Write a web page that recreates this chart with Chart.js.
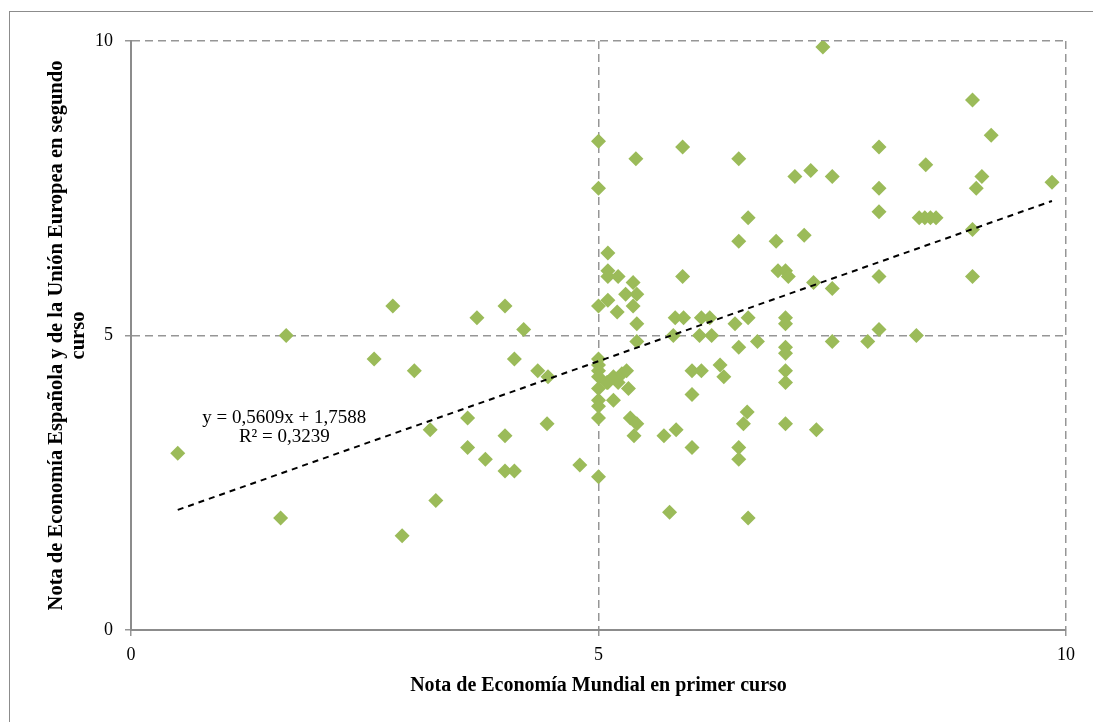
<!DOCTYPE html>
<html>
<head>
<meta charset="utf-8">
<script src="https://cdn.jsdelivr.net/npm/chart.js@4"></script>
<style>
  html, body { margin: 0; padding: 0; background: #fff; }
  #wrap { width: 1093px; height: 722px; position: relative; }
</style>
</head>
<body>
<div id="wrap"><canvas id="scatter"></canvas></div>
<script>
  // notas: primer curso (x) y segundo curso (y)
  const notaMundial = [
    0.5, 1.6, 1.66, 2.6, 2.8, 2.9, 3.03, 3.2, 3.26, 3.6, 3.6, 3.7, 3.79, 4.0, 4.0, 4.0, 4.1, 4.1, 4.2, 4.35,
    4.46, 4.45, 4.8, 5.0, 5.76, 6.6, 5.0, 5.0, 5.4, 5.9, 6.5, 7.1, 7.27, 7.5, 7.4, 9.0, 9.2, 8.0, 8.5, 8.0,
    9.1, 9.04, 9.85, 8.0, 8.43, 8.49, 8.55, 8.61, 9.0, 6.6, 6.5, 6.9, 7.2, 6.92, 7.0, 7.03, 7.3, 7.5, 8.0, 9.0,
    5.9, 5.1, 5.1, 5.1, 5.21, 5.37, 5.29, 5.41, 5.1, 5.0, 5.2, 5.37, 5.41, 5.82, 5.91, 6.1, 6.19, 6.46, 6.6, 7.0,
    7.0, 5.8, 6.08, 6.21, 5.41, 6.5, 6.7, 7.0, 7.0, 7.5, 8.0, 8.4, 7.88, 7.0, 7.0, 7.0, 7.33, 6.0, 6.1, 6.3,
    6.34, 6.0, 6.59, 6.55, 5.7, 5.83, 6.0, 6.5, 6.5, 5.0, 5.0, 5.0, 5.0, 5.0, 5.0, 5.0, 5.0, 5.09, 5.16, 5.16,
    5.25, 5.3, 5.21, 5.32, 5.1, 5.34, 5.41, 5.38
  ];
  const notaEspUE = [
    3.0, 1.9, 5.0, 4.6, 5.5, 1.6, 4.4, 3.4, 2.2, 3.6, 3.1, 5.3, 2.9, 3.3, 5.5, 2.7, 2.7, 4.6, 5.1, 4.4,
    4.3, 3.5, 2.8, 2.6, 2.0, 1.9, 8.3, 7.5, 8.0, 8.2, 8.0, 7.7, 7.8, 7.7, 9.9, 9.0, 8.4, 8.2, 7.9, 7.5,
    7.7, 7.5, 7.6, 7.1, 7.0, 7.0, 7.0, 7.0, 6.8, 7.0, 6.6, 6.6, 6.7, 6.1, 6.1, 6.0, 5.9, 5.8, 6.0, 6.0,
    6.0, 6.4, 6.1, 6.0, 6.0, 5.9, 5.7, 5.7, 5.6, 5.5, 5.4, 5.5, 5.2, 5.3, 5.3, 5.3, 5.3, 5.2, 5.3, 5.3,
    5.2, 5.0, 5.0, 5.0, 4.9, 4.8, 4.9, 4.8, 4.7, 4.9, 5.1, 5.0, 4.9, 4.4, 4.2, 3.5, 3.4, 4.4, 4.4, 4.5,
    4.3, 4.0, 3.7, 3.5, 3.3, 3.4, 3.1, 3.1, 2.9, 4.6, 4.5, 4.4, 4.3, 4.1, 3.9, 3.8, 3.6, 4.2, 4.3, 3.9,
    4.35, 4.4, 4.2, 4.1, 4.2, 3.6, 3.5, 3.3
  ];
  const axisTicks = [0, 5, 10];
  const trendSlope = 0.5609;
  const trendIntercept = 1.7588;
  const trendLabel = ['y = 0,5609x + 1,7588', 'R\u00b2 = 0,3239'];

  const puntos = notaMundial.map((x, i) => ({ x: x, y: notaEspUE[i] }));
  const xMin = Math.min(...notaMundial), xMax = Math.max(...notaMundial);
  const tendencia = [xMin, xMax].map(x => ({ x: x, y: trendSlope * x + trendIntercept }));

  const serif = "'Liberation Serif', 'DejaVu Serif', serif";

  // marco exterior y etiqueta de la recta
  const extras = {
    id: 'extras',
    beforeDraw(chart) {
      const ctx = chart.ctx;
      ctx.save();
      ctx.strokeStyle = '#8c8c8c';
      ctx.lineWidth = 1;
      ctx.strokeRect(9.5, 11.5, 2000, 2000);
      ctx.restore();
    },
    afterDraw(chart) {
      const ctx = chart.ctx;
      const xs = chart.scales.x, ys = chart.scales.y;
      const cx = xs.getPixelForValue(1.64);
      ctx.save();
      ctx.fillStyle = '#000';
      ctx.font = '19px ' + serif;
      ctx.textAlign = 'center';
      ctx.textBaseline = 'middle';
      ctx.fillText(trendLabel[0], cx, ys.getPixelForValue(3.6));
      ctx.fillText(trendLabel[1], cx, ys.getPixelForValue(3.27));
      ctx.restore();
    }
  };

  const canvas = document.querySelector('#scatter');
  const chart = new Chart(canvas, {
    type: 'scatter',
    data: {
      datasets: [{
        label: 'notas',
        data: puntos,
        pointStyle: 'rectRot',
        pointRadius: 7.5,
        pointHoverRadius: 7.5,
        backgroundColor: '#9bbb59',
        borderColor: '#9bbb59',
        borderWidth: 0,
        order: 2
      }, {
        label: 'tendencia',
        type: 'line',
        data: tendencia,
        borderColor: '#000',
        borderWidth: 2,
        borderDash: [6, 5],
        pointRadius: 0,
        fill: false,
        order: 1
      }]
    },
    options: {
      responsive: true,
      maintainAspectRatio: false,
      animation: false,
      layout: { padding: { top: 41, right: 27, left: 0, bottom: 0 } },
      plugins: { legend: { display: false }, tooltip: { enabled: false } },
      scales: {
        x: {
          type: 'linear',
          min: 0, max: 10,
          afterBuildTicks: s => { s.ticks = axisTicks.map(v => ({ value: v })); },
          afterFit: s => { s.height = 92; },
          grid: { color: '#969696', lineWidth: 1.5, tickLength: 6 },
          border: { color: '#8c8c8c', width: 2, dash: [8, 5] },
          ticks: { color: '#000', font: { family: serif, size: 18 }, padding: 8, maxRotation: 0 },
          title: {
            display: true,
            text: 'Nota de Economía Mundial en primer curso',
            color: '#000',
            font: { family: serif, size: 20, weight: 'bold' },
            padding: { top: 0, bottom: 24 }
          }
        },
        y: {
          type: 'linear',
          min: 0, max: 10,
          afterBuildTicks: s => { s.ticks = axisTicks.map(v => ({ value: v })); },
          afterFit: s => { s.width = 131; },
          grid: { color: '#969696', lineWidth: 1.5, tickLength: 6 },
          border: { color: '#8c8c8c', width: 2, dash: [8, 5] },
          ticks: { color: '#000', font: { family: serif, size: 18 }, padding: 12 },
          title: {
            display: true,
            text: ['Nota de Economía Española y de la Unión Europea en segundo', 'curso'],
            color: '#000',
            font: { family: serif, size: 20.5, weight: 'bold', lineHeight: 1.05 },
            padding: { top: 46, bottom: 0 }
          }
        }
      }
    },
    plugins: [extras]
  });
</script>
</body>
</html>
